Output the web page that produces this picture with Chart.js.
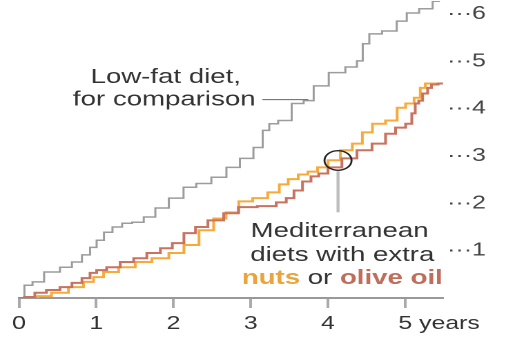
<!DOCTYPE html>
<html>
<head>
<meta charset="utf-8">
<script src="https://cdn.jsdelivr.net/npm/chart.js@4.4.1/dist/chart.umd.min.js"></script>
<style>
  html, body { margin: 0; padding: 0; background: #fff; overflow: hidden; }
  #wrap { width: 373px; height: 339px; transform: scaleX(1.3807); transform-origin: 0 0; }
</style>
</head>
<body>
<div id="wrap"><canvas id="c"></canvas></div>
<script>
// ---- Data (years since start, cumulative rate %) ----
const xTickValues = [0, 1, 2, 3, 4, 5];
const yTickValues = [1, 2, 3, 4, 5, 6];

const lowFatYears = [0, 0.14, 0.21, 0.44, 0.62, 0.75, 0.88, 0.96, 1.05, 1.15, 1.27, 1.40, 1.53, 1.70, 1.83, 2.05, 2.21, 2.38, 2.60, 2.77, 2.95, 3.12, 3.19, 3.29, 3.42, 3.64, 3.73, 3.90, 4.12, 4.33, 4.42, 4.48, 4.59, 4.81, 4.97, 5.07, 5.29, 5.42, 5.45];
const lowFatRate  = [0, 0.27, 0.34, 0.55, 0.65, 0.76, 0.91, 1.07, 1.22, 1.39, 1.50, 1.58, 1.60, 1.71, 1.90, 2.11, 2.34, 2.42, 2.55, 2.76, 2.95, 3.18, 3.54, 3.68, 3.75, 4.11, 4.17, 4.48, 4.76, 4.88, 5.01, 5.37, 5.58, 5.64, 5.85, 6.02, 6.11, 6.27, 6.38];

const nutsYears = [0, 0.18, 0.31, 0.53, 0.75, 0.92, 1.01, 1.18, 1.40, 1.61, 1.83, 2.05, 2.22, 2.44, 2.60, 2.76, 2.93, 3.12, 3.32, 3.42, 3.55, 3.68, 3.80, 3.93, 4.07, 4.25, 4.38, 4.51, 4.64, 4.85, 4.94, 5.07, 5.16, 5.23, 5.29, 5.42];
const nutsRate  = [0, 0.02, 0.04, 0.11, 0.23, 0.34, 0.44, 0.55, 0.65, 0.76, 0.84, 0.95, 1.12, 1.43, 1.68, 1.81, 2.04, 2.11, 2.23, 2.40, 2.51, 2.61, 2.67, 2.76, 2.91, 3.12, 3.26, 3.50, 3.68, 3.75, 4.02, 4.11, 4.23, 4.44, 4.53, 4.53];

const oliveYears = [0, 0.14, 0.27, 0.44, 0.62, 0.75, 0.88, 0.96, 1.05, 1.22, 1.40, 1.57, 1.74, 1.92, 2.05, 2.22, 2.35, 2.54, 2.76, 2.92, 3.25, 3.41, 3.51, 3.61, 3.73, 3.83, 3.93, 4.07, 4.29, 4.46, 4.68, 4.81, 4.94, 5.07, 5.10, 5.16, 5.19, 5.26, 5.32, 5.36, 5.49];
const oliveRate  = [0, 0.02, 0.11, 0.17, 0.23, 0.32, 0.42, 0.53, 0.59, 0.65, 0.76, 0.84, 0.95, 1.05, 1.16, 1.37, 1.50, 1.64, 1.79, 1.92, 1.94, 2.02, 2.11, 2.27, 2.46, 2.57, 2.63, 2.76, 2.95, 3.12, 3.26, 3.47, 3.60, 3.68, 3.90, 4.11, 4.17, 4.32, 4.44, 4.51, 4.53];

const FONT = '"Liberation Sans", Arial, Helvetica, sans-serif';
const toPts = (xs, ys) => xs.map((v, i) => ({ x: v, y: ys[i] }));

const annot = {
  id: 'annot',
  afterDraw(chart) {
    const { ctx, scales: { x, y } } = chart;
    const X = v => x.getPixelForValue(v), Y = v => y.getPixelForValue(v);
    ctx.save();
    // leader for low-fat label
    ctx.strokeStyle = '#666'; ctx.lineWidth = 1;
    ctx.beginPath(); ctx.moveTo(X(3.15), Y(4.19)); ctx.lineTo(X(3.745), Y(4.19)); ctx.stroke();
    // circle marker and its stem
    const cx = X(4.13), cy = Y(2.905), r = 9.8;
    ctx.strokeStyle = '#bdbdbd'; ctx.lineWidth = 2.2;
    ctx.beginPath(); ctx.moveTo(cx, cy + r + 1); ctx.lineTo(cx, Y(1.81)); ctx.stroke();
    ctx.strokeStyle = '#222'; ctx.lineWidth = 1.4;
    ctx.beginPath(); ctx.arc(cx, cy, r, 0, Math.PI * 2); ctx.stroke();

    // text labels
    ctx.textBaseline = 'alphabetic';
    ctx.textAlign = 'center';
    ctx.fillStyle = '#333';
    ctx.font = '20px ' + FONT;
    ctx.fillText('Low-fat diet,', X(1.90), Y(4.547));
    ctx.fillText('for comparison', X(1.88), Y(4.063));
    ctx.fillText('Mediterranean', X(4.15), Y(1.284));
    ctx.fillText('diets with extra', X(4.185), Y(0.78));

    // mixed-style line
    const parts = [
      { t: 'nuts', f: 'bold 20px ' + FONT, c: '#eba33c' },
      { t: ' or ', f: '20px ' + FONT, c: '#333' },
      { t: 'olive oil', f: 'bold 20px ' + FONT, c: '#c06e5c' }
    ];
    let total = 0;
    parts.forEach(p => { ctx.font = p.f; p.w = ctx.measureText(p.t).width; total += p.w; });
    let sx = X(4.185) - total / 2;
    ctx.textAlign = 'left';
    const by = Y(0.295);
    parts.forEach(p => { ctx.font = p.f; ctx.fillStyle = p.c; ctx.fillText(p.t, sx, by); sx += p.w; });

    // "years" after the last x tick label
    ctx.font = '18px ' + FONT;
    ctx.fillStyle = '#333';
    let ly = 327, base = 'middle';
    if (x.getLabelItems) {
      const items = x.getLabelItems();
      const it = items[items.length - 1];
      if (it) { ly = it.options.translation[1] + (it.textOffset || 0); base = it.options.textBaseline || 'middle'; }
    }
    ctx.textBaseline = base;
    ctx.textAlign = 'left';
    const lx = X(xTickValues[xTickValues.length - 1]) + ctx.measureText('5').width / 2 + ctx.measureText(' ').width;
    ctx.fillText('years', lx, ly);
    ctx.restore();
  }
};

new Chart(document.getElementById('c'), {
  type: 'line',
  data: {
    datasets: [
      { label: 'Olive oil', data: toPts(oliveYears, oliveRate), borderColor: '#c8725f', borderWidth: 2, stepped: 'middle', pointRadius: 0, fill: false, order: 1 },
      { label: 'Nuts', data: toPts(nutsYears, nutsRate), borderColor: '#f7aa3c', borderWidth: 2, stepped: 'middle', pointRadius: 0, fill: false, order: 2 },
      { label: 'Low-fat', data: toPts(lowFatYears, lowFatRate), borderColor: '#9c9c9c', borderWidth: 1.5, stepped: 'middle', pointRadius: 0, fill: false, order: 3 }
    ]
  },
  options: {
    responsive: true,
    maintainAspectRatio: false,
    animation: false,
    devicePixelRatio: 2,
    events: [],
    layout: { padding: { left: 13.76, right: 0, top: 0, bottom: 0 } },
    plugins: { legend: { display: false }, tooltip: { enabled: false } },
    scales: {
      x: {
        type: 'linear', min: 0, max: 5.49,
        afterBuildTicks: s => { s.ticks = xTickValues.map(v => ({ value: v })); },
        afterFit: s => { s.height = 41; s.paddingLeft = 0; s.paddingRight = 0; },
        ticks: { font: { family: FONT, size: 18 }, color: '#333', padding: 5, maxRotation: 0, autoSkip: false, callback: v => String(v) },
        grid: { display: true, drawOnChartArea: false, drawTicks: true, tickLength: 10, tickColor: '#aaaaaa', tickWidth: 2 },
        border: { display: true, color: '#999', width: 2 }
      },
      y: {
        type: 'linear', position: 'right', min: 0, max: 6.274,
        afterBuildTicks: s => { s.ticks = yTickValues.map(v => ({ value: v })); },
        afterFit: s => { s.width = 52.1; s.paddingTop = 0; s.paddingBottom = 0; },
        ticks: { font: { family: FONT, size: 18 }, color: '#444', padding: 3, autoSkip: false, callback: v => '\u00b7\u00b7\u00b7' + v },
        grid: { display: false, drawTicks: false },
        border: { display: false }
      }
    }
  },
  plugins: [annot]
});
</script>
</body>
</html>
